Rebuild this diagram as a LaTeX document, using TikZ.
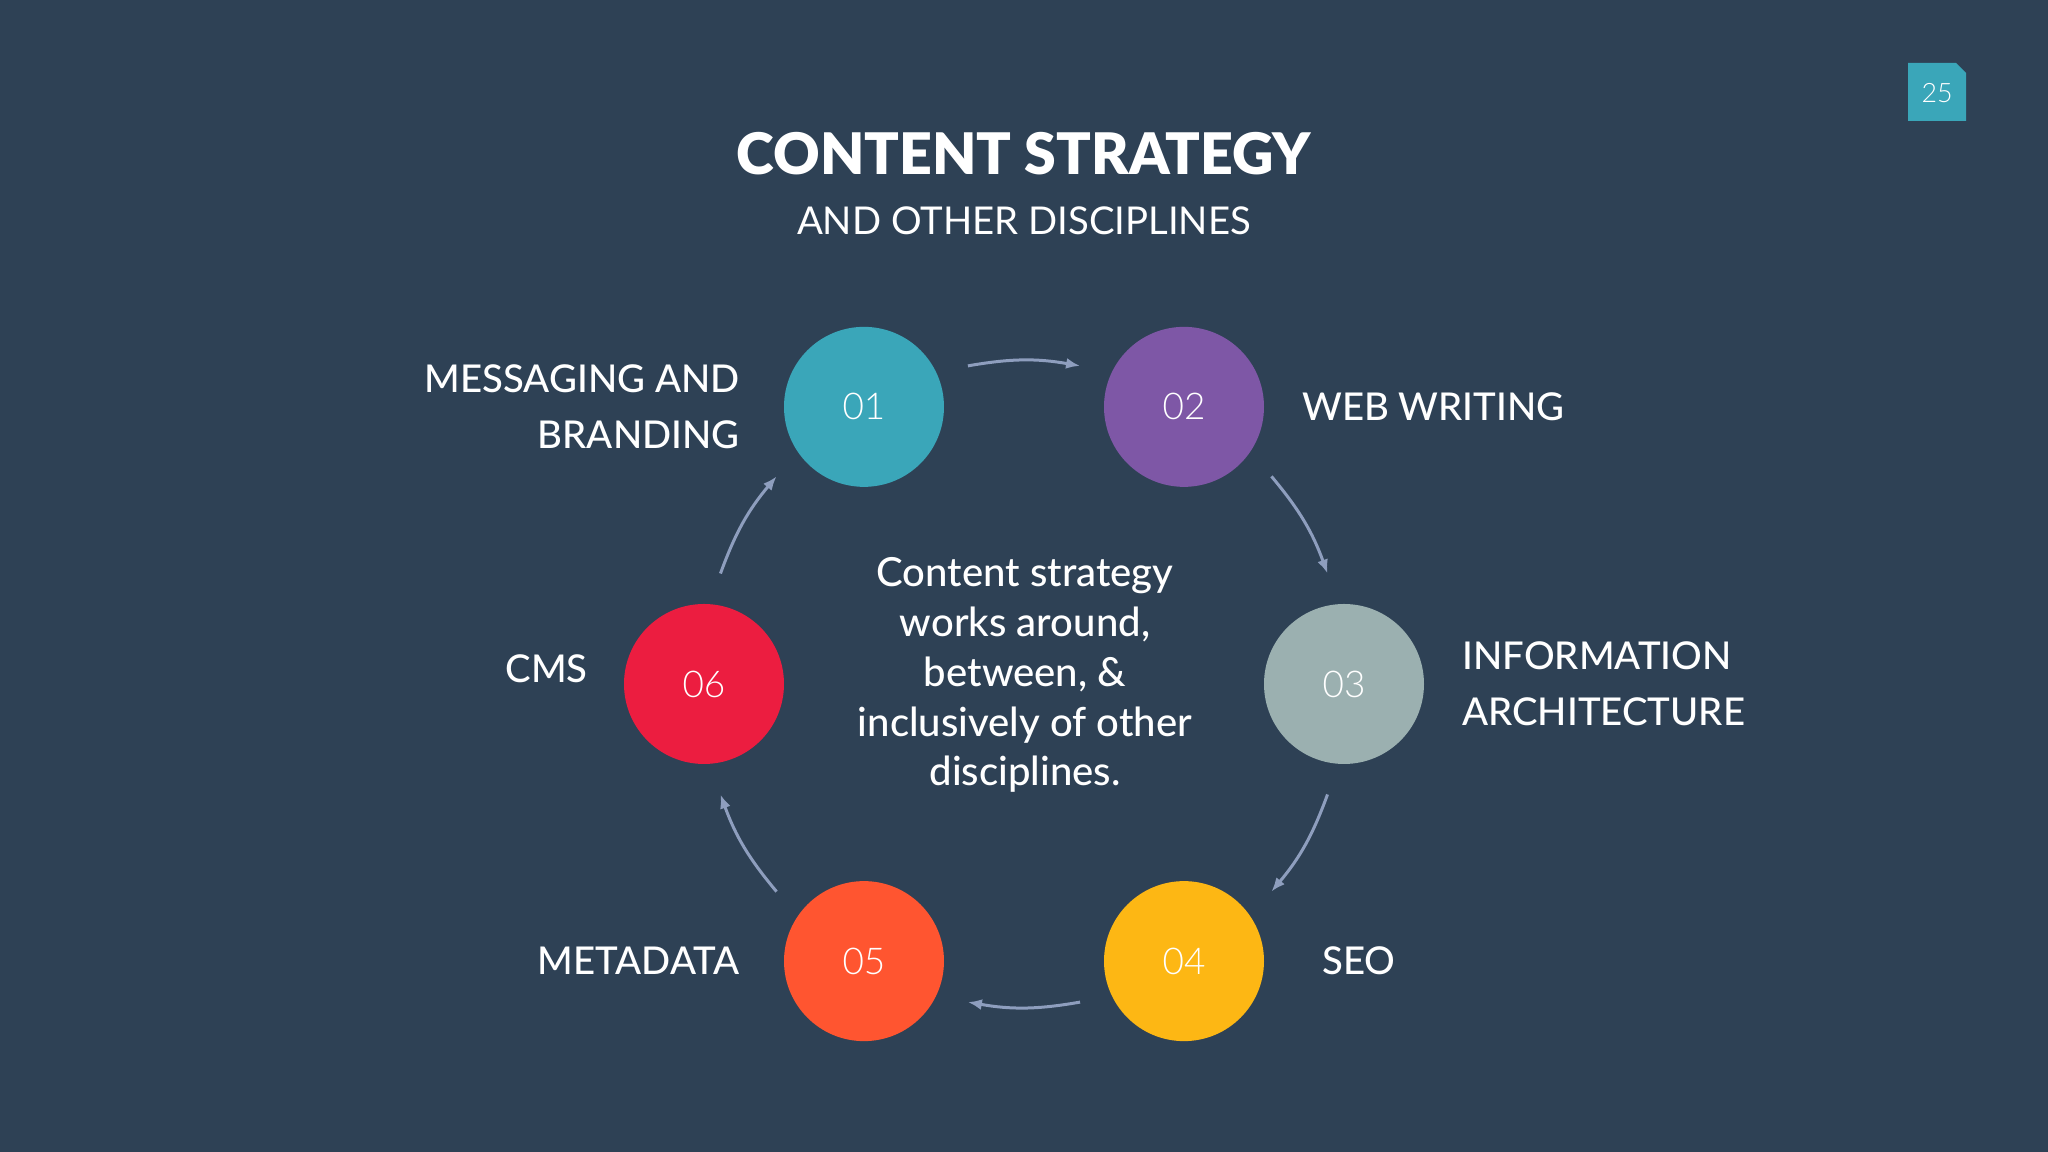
\documentclass[tikz,border=0pt]{standalone}
\usepackage{fontspec}
\setmainfont{Lato}
\newfontfamily\heavyfont{Lato Black}
\newfontfamily\thinfont{Lato Light}
\newfontfamily\midfont{Lato Medium}
\usetikzlibrary{arrows.meta,positioning}
\definecolor{slate}{RGB}{46,65,85}
\definecolor{c01}{RGB}{58,166,185}
\definecolor{c02}{RGB}{126,87,166}
\definecolor{c03}{RGB}{155,176,176}
\definecolor{c04}{RGB}{253,183,20}
\definecolor{c05}{RGB}{255,85,48}
\definecolor{c06}{RGB}{236,29,64}
\definecolor{flowc}{RGB}{142,158,190}
\begin{document}
\begin{tikzpicture}[
    x=0.1mm,y=0.1mm,
    disc/.style={circle,inner sep=0pt,minimum size=16mm,text=white,font=\thinfont\fontsize{10.5}{12}\selectfont},
    tag/.style={inner sep=0pt,text=white,font=\midfont\fontsize{10.9}{15.9}\selectfont},
    flow/.style={-{Latex[length=1.4mm,width=1.1mm]},draw=flowc,line width=0.3mm},
    >=Latex]
    \fill[slate] (-1024,-468) rectangle (1024,684);
    \useasboundingbox (-1024,-468) rectangle (1024,684);
    % page number
    \fill[c01] (884,563) -- (884,621) -- (932,621) -- (942,611) -- (942,563) -- cycle;
    \node[text=white,font=\thinfont\fontsize{7.6}{9}\selectfont] (page) at (913,591) {25};
    \node[inner sep=0pt,text=white,font=\heavyfont\fontsize{16.3}{20}\selectfont] (title) at (0,530) {CONTENT STRATEGY};
    \node[inner sep=0pt,text=white,font=\fontsize{10.9}{13}\selectfont,anchor=north,below=3mm of title] (subtitle) {AND OTHER DISCIPLINES};
    \coordinate (hub) at (0,0);
    \node[disc,fill=c01] (n1) at (120:320) {01};
    \node[disc,fill=c02] (n2) at (60:320) {02};
    \node[disc,fill=c03] (n3) at (0:320) {03};
    \node[disc,fill=c04] (n4) at (-60:320) {04};
    \node[disc,fill=c05] (n5) at (-120:320) {05};
    \node[disc,fill=c06] (n6) at (180:320) {06};
    \node[tag,align=right,left=4.3mm of n1] (l1) {MESSAGING AND\\BRANDING};
    \node[tag,right=3.7mm of n2] (l2) {WEB WRITING};
    \node[tag,align=left,right=3.7mm of n3] (l3) {INFORMATION\\ARCHITECTURE};
    \node[tag,right=5.7mm of n4] (l4) {SEO};
    \node[tag,left=4.3mm of n5] (l5) {METADATA};
    \node[tag,left=3.5mm of n6,yshift=1.5mm] (l6) {CMS};
    \node[tag,align=center,font=\midfont\fontsize{11.4}{14.2}\selectfont] (core) at (1,9)
      {Content strategy\\works around,\\between, \&\\inclusively of other\\disciplines.};
    \foreach \s [count=\i] in {100,40,-20,-80,-140,160}{
      \coordinate (s\i) at (\s:323);
      \coordinate (t\i) at (\s-20:323);
      \draw[flow] (s\i) to[bend left=10] (t\i);
    }
\end{tikzpicture}
\end{document}
